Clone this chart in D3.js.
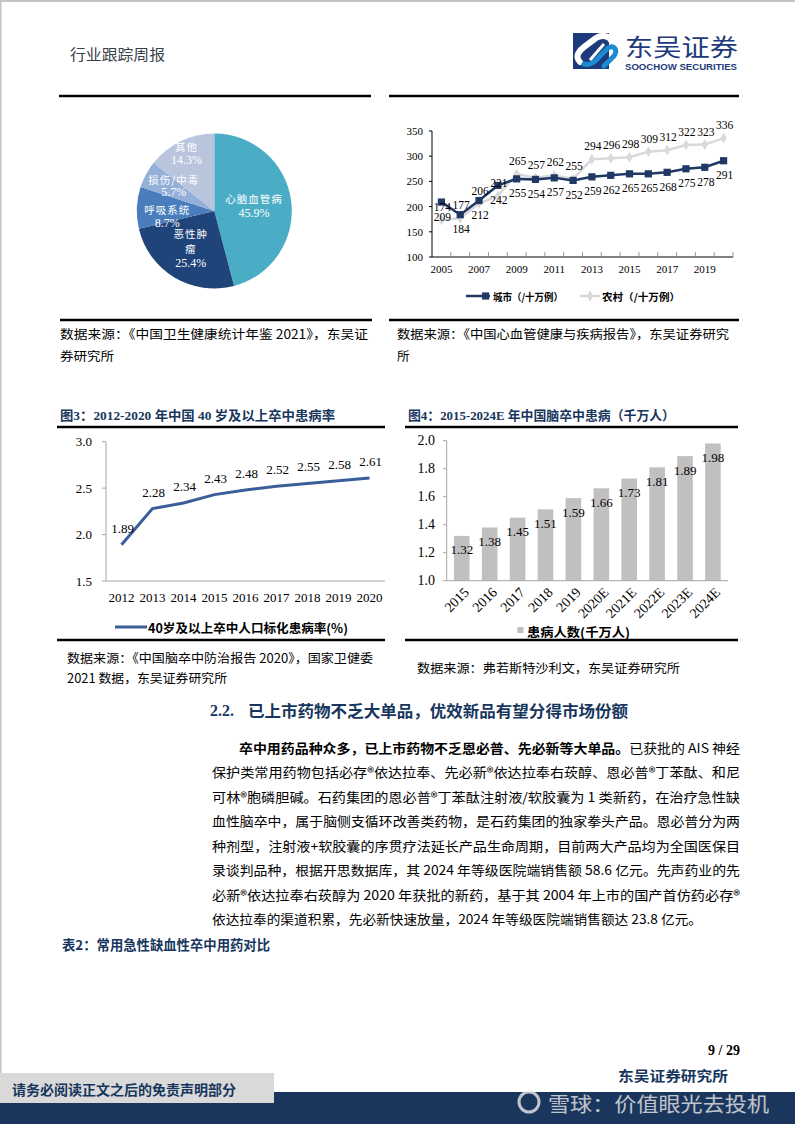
<!DOCTYPE html>
<html><head><meta charset="utf-8">
<script src="https://cdn.jsdelivr.net/npm/d3@7"></script>
<style>body{margin:0;background:#fff}svg{display:block}</style>
</head><body><svg id="page" width="795" height="1124"></svg>
<script>
// ---------- DATA ----------
const pieCategories = ["心脑血管病","恶性肿瘤","呼吸系统","损伤/中毒","其他"];
const pieLabelLines = [["心脑血管病"],["恶性肿","瘤"],["呼吸系统"],["损伤/中毒"],["其他"]];
const pieValues = [45.9,25.4,8.7,5.7,14.3];

const trendYears = ["2005","2006","2007","2008","2009","2010","2011","2012","2013","2014","2015","2016","2017","2018","2019","2020"];
const cityRates = [209,184,212,242,255,254,257,252,259,262,265,265,268,275,278,291];
const ruralRates = [174,177,206,221,265,257,262,255,294,296,298,309,312,322,323,336];
const trendYTicks = [100,150,200,250,300,350];
const trendXTickLabels = ["2005","2007","2009","2011","2013","2015","2017","2019"];
const trendSeriesNames = ["城市（/十万例）","农村（/十万例）"];

const strokeYears = ["2012","2013","2014","2015","2016","2017","2018","2019","2020"];
const strokePrevalence = [1.89,2.28,2.34,2.43,2.48,2.52,2.55,2.58,2.61];
const strokeYTicks = [1.5,2.0,2.5,3.0];
const strokeSeriesName = "40岁及以上卒中人口标化患病率(%)";

const patientYears = ["2015","2016","2017","2018","2019","2020E","2021E","2022E","2023E","2024E"];
const patientCounts = [1.32,1.38,1.45,1.51,1.59,1.66,1.73,1.81,1.89,1.98];
const patientYTicks = [1.0,1.2,1.4,1.6,1.8,2.0];
const patientSeriesName = "患病人数(千万人)";

// ---------- HELPERS ----------
const SERIF = "'Liberation Serif','Times New Roman','Noto Sans CJK SC',serif";
const CJK = "'Noto Sans CJK SC','Liberation Serif',sans-serif";
const NAVY = "#1f3864";
const svg = d3.select("#page");
svg.append("rect").attr("width",795).attr("height",1124).attr("fill","#fff");
svg.append("rect").attr("x",0).attr("y",0).attr("width",795).attr("height",2).attr("fill","#c4c4c4");
svg.append("rect").attr("x",0).attr("y",0).attr("width",1.5).attr("height",1124).attr("fill","#c4c4c4");

function txt(g,x,y,s,o){
  o=o||{};
  const t=g.append("text").attr("x",x).attr("y",y).text(s)
    .attr("font-family",o.ff||CJK).attr("font-size",o.fs||13)
    .attr("font-weight",o.fw||"normal").attr("fill",o.fill||"#000")
    .attr("text-anchor",o.anchor||"start").attr("dominant-baseline","central");
  if(o.len){t.attr("textLength",o.len).attr("lengthAdjust","spacingAndGlyphs");}
  if(o.ls){t.attr("letter-spacing",o.ls);}
  if(o.op){t.attr("opacity",o.op);}
  return t;
}
function hline(x1,x2,y,w){svg.append("line").attr("x1",x1).attr("x2",x2).attr("y1",y).attr("y2",y).attr("stroke","#000").attr("stroke-width",w||2);}

// ---------- HEADER ----------
txt(svg,70,53,"行业跟踪周报",{fs:15,fill:"#3b3f48",len:95});
const logo = svg.append("g");
logo.append("rect").attr("x",573).attr("y",33).attr("width",36).attr("height",36).attr("fill","#1d3a7a");
logo.append("path").attr("d","M580 62 C574 56,580 50,584 47 L596 38 C602 34,610 36,612 42")
  .attr("fill","none").attr("stroke","#fff").attr("stroke-width",6).attr("stroke-linecap","round");
logo.append("path").attr("d","M584 64 C592 66,596 60,600 56 L608 48 C614 44,618 50,614 56 L604 66")
  .attr("fill","none").attr("stroke","#1b8ad3").attr("stroke-width",5).attr("stroke-linecap","round");
logo.append("path").attr("d","M590 60 L604 44").attr("stroke","#fff").attr("stroke-width",3);
txt(svg,625,45,"东吴证券",{fs:24,fill:"#1d3a7a",len:113});
txt(svg,625,67,"SOOCHOW SECURITIES",{fs:9,fw:"bold",ff:"'Liberation Sans',Arial,sans-serif",fill:"#1d3a7a",len:112});
hline(59,371,96,2.5); hline(389,739,96,2.5);

// ---------- CHART 1: PIE ----------
{
  const cx=214.3, cy=211, R=77.5;
  const colors=["#4bacc6","#1f4479","#4a7dbb","#94b0d8","#b9c5dd"];
  const pie=d3.pie().sort(null).value(d=>d)(pieValues);
  const arc=d3.arc().innerRadius(0).outerRadius(R);
  const g=svg.append("g").attr("transform",`translate(${cx},${cy})`);
  g.selectAll("path").data(pie).join("path").attr("d",arc).attr("fill",(d,i)=>colors[i]);
  const labelR=[40,46,47,46,64];
  const labelShift=[0,-2,7,-3,0];
  const lh=[14.5,14.5,13.5,12.5,14];
  pie.forEach((d,i)=>{
    const a=(d.startAngle+d.endAngle)/2;
    const lx=Math.sin(a)*labelR[i], ly=-Math.cos(a)*labelR[i]+labelShift[i];
    const lines=pieLabelLines[i].concat([d3.format(".1f")(d.value)+"%"]);
    const h=(lines.length-1)*lh[i];
    lines.forEach((s,k)=>{
      const isPct=k===lines.length-1;
      txt(g,lx,ly-h/2+k*lh[i],s,{fs:isPct?12:10.5,ff:isPct?SERIF:CJK,fill:"#fff",anchor:"middle",ls:isPct?0:1});
    });
  });
}
hline(60,372,320,2.5); hline(389,739,320,2.5);
txt(svg,60,333,"数据来源：《中国卫生健康统计年鉴 2021》，东吴证",{fs:12.5,len:308});
txt(svg,60,355,"券研究所",{fs:12.5,len:54});
txt(svg,397,333,"数据来源：《中国心血管健康与疾病报告》，东吴证券研究",{fs:12.5,len:332});
txt(svg,397,355,"所",{fs:12.5});

// ---------- CHART 2: TREND LINES ----------
{
  const x=d3.scaleBand().domain(trendYears).range([432,733]);
  const y=d3.scaleLinear().domain([100,350]).range([257,131]);
  const g=svg.append("g");
  g.append("line").attr("x1",432).attr("x2",432).attr("y1",131).attr("y2",257).attr("stroke","#000").attr("stroke-width",1);
  g.append("line").attr("x1",432).attr("x2",733).attr("y1",257).attr("y2",257).attr("stroke","#000").attr("stroke-width",1);
  trendYTicks.forEach(v=>{
    g.append("line").attr("x1",429).attr("x2",432).attr("y1",y(v)).attr("y2",y(v)).attr("stroke","#000");
    txt(g,423,y(v),String(v),{ff:SERIF,fs:11,anchor:"end"});
  });
  trendYears.forEach((yr,i)=>{
    const bx=x(yr)+x.bandwidth();
    g.append("line").attr("x1",bx).attr("x2",bx).attr("y1",257).attr("y2",252).attr("stroke","#999");
  });
  trendXTickLabels.forEach(yr=>txt(g,x(yr)+x.bandwidth()/2,269,yr,{ff:SERIF,fs:11,anchor:"middle"}));
  const cxp=(d,i)=>x(trendYears[i])+x.bandwidth()/2;
  const line=d3.line().x(cxp).y(d=>y(d));
  g.append("path").attr("d",line(ruralRates)).attr("fill","none").attr("stroke","#d9d9d9").attr("stroke-width",2.5);
  g.append("path").attr("d",line(cityRates)).attr("fill","none").attr("stroke",NAVY).attr("stroke-width",2.5);
  const dia=d3.symbol().type(d3.symbolDiamond).size(34)();
  ruralRates.forEach((v,i)=>g.append("path").attr("d",dia).attr("transform",`translate(${cxp(v,i)},${y(v)})`).attr("fill","#d9d9d9"));
  cityRates.forEach((v,i)=>g.append("rect").attr("x",cxp(v,i)-3.6).attr("y",y(v)-3.6).attr("width",7.2).attr("height",7.2).attr("fill",NAVY));
  ruralRates.forEach((v,i)=>txt(g,cxp(v,i)+1,y(v)-13,String(v),{ff:SERIF,fs:11.5,anchor:"middle"}));
  cityRates.forEach((v,i)=>txt(g,cxp(v,i)+1,y(v)+14.5,String(v),{ff:SERIF,fs:11.5,anchor:"middle"}));
  g.append("line").attr("x1",466).attr("x2",490).attr("y1",296).attr("y2",296).attr("stroke",NAVY).attr("stroke-width",2.5);
  g.append("rect").attr("x",482).attr("y",292.4).attr("width",7.2).attr("height",7.2).attr("fill",NAVY);
  txt(g,493,296,trendSeriesNames[0],{fs:10,fw:"bold",len:70});
  g.append("line").attr("x1",580).attr("x2",600).attr("y1",296).attr("y2",296).attr("stroke","#d9d9d9").attr("stroke-width",2.5);
  g.append("path").attr("d",dia).attr("transform","translate(590,296)").attr("fill","#d9d9d9");
  txt(g,602,296,trendSeriesNames[1],{fs:10,fw:"bold",len:78});
}

// ---------- CHART 3: STROKE PREVALENCE ----------
txt(svg,60,415,"图3：2012-2020 年中国 40 岁及以上卒中患病率",{ff:SERIF,fs:13,fw:"bold",fill:"#17365d",len:275});
hline(57,385,427,2.5);
{
  const x=d3.scaleBand().domain(strokeYears).range([106,385]);
  const y=d3.scaleLinear().domain([1.5,3.0]).range([581,441.7]);
  const g=svg.append("g");
  g.append("line").attr("x1",106).attr("x2",106).attr("y1",441.7).attr("y2",581).attr("stroke","#a6a6a6");
  g.append("line").attr("x1",106).attr("x2",385).attr("y1",581).attr("y2",581).attr("stroke","#a6a6a6");
  strokeYTicks.forEach(v=>{
    g.append("line").attr("x1",102).attr("x2",106).attr("y1",y(v)).attr("y2",y(v)).attr("stroke","#a6a6a6");
    txt(g,92,y(v),d3.format(".1f")(v),{ff:SERIF,fs:13,anchor:"end"});
  });
  strokeYears.forEach(yr=>txt(g,x(yr)+x.bandwidth()/2,597,yr,{ff:SERIF,fs:13,anchor:"middle"}));
  const cxp=(d,i)=>x(strokeYears[i])+x.bandwidth()/2;
  g.append("path").attr("d",d3.line().x(cxp).y(d=>y(d))(strokePrevalence)).attr("fill","none").attr("stroke","#3a5e9a").attr("stroke-width",3);
  strokePrevalence.forEach((v,i)=>txt(g,cxp(v,i)+1,y(v)-16.5,d3.format(".2f")(v),{ff:SERIF,fs:13,anchor:"middle"}));
  g.append("line").attr("x1",115).attr("x2",147).attr("y1",627).attr("y2",627).attr("stroke","#3a5e9a").attr("stroke-width",3);
  txt(g,148,627,strokeSeriesName,{fs:12.5,fw:"bold",len:200});
}
hline(57,385,640,2.5);
txt(svg,67,657,"数据来源：《中国脑卒中防治报告 2020》，国家卫健委",{fs:12.5,len:306});
txt(svg,67,677,"2021 数据，东吴证券研究所",{fs:12.5,len:160});

// ---------- CHART 4: PATIENT BARS ----------
txt(svg,408,415,"图4：2015-2024E 年中国脑卒中患病（千万人）",{ff:SERIF,fs:13,fw:"bold",fill:"#17365d",len:267});
hline(405,738,427,2.5);
{
  const x=d3.scaleBand().domain(patientYears).range([446.7,728]).paddingInner(0.44).paddingOuter(0.26);
  const y=d3.scaleLinear().domain([1.0,2.0]).range([580.7,440.7]);
  const g=svg.append("g");
  g.selectAll("rect.bar").data(patientCounts).join("rect").attr("class","bar")
    .attr("x",(d,i)=>x(patientYears[i])).attr("width",x.bandwidth())
    .attr("y",d=>y(d)).attr("height",d=>y(1.0)-y(d)).attr("fill","#c0c0c0");
  g.append("line").attr("x1",446.7).attr("x2",446.7).attr("y1",440.7).attr("y2",580.7).attr("stroke","#a6a6a6");
  g.append("line").attr("x1",446.7).attr("x2",728).attr("y1",580.7).attr("y2",580.7).attr("stroke","#a6a6a6");
  patientYTicks.forEach(v=>{
    g.append("line").attr("x1",443).attr("x2",446.7).attr("y1",y(v)).attr("y2",y(v)).attr("stroke","#a6a6a6");
    txt(g,435,y(v),d3.format(".1f")(v),{ff:SERIF,fs:14,anchor:"end"});
  });
  patientCounts.forEach((v,i)=>txt(g,x(patientYears[i])+x.bandwidth()/2,y(v)+14,d3.format(".2f")(v),{ff:SERIF,fs:13,anchor:"middle"}));
  patientYears.forEach(yr=>{
    const px=x(yr)+x.bandwidth()/2+5;
    g.append("text").attr("transform",`translate(${px},590) rotate(-45)`).attr("text-anchor","end")
      .attr("dominant-baseline","central").attr("font-family",SERIF).attr("font-size",14).text(yr);
  });
  g.append("rect").attr("x",517.5).attr("y",627).attr("width",6).attr("height",6).attr("fill","#c0c0c0");
  txt(g,527,631,patientSeriesName,{fs:12.5,fw:"bold",len:103});
}
hline(405,738,640,2.5);
txt(svg,417,667,"数据来源：弗若斯特沙利文，东吴证券研究所",{fs:12.5,len:263});

// ---------- TEXT BODY ----------
{
  const h=svg.append("text").attr("y",710).attr("dominant-baseline","central").attr("fill","#17365d").attr("font-weight","bold");
  h.append("tspan").attr("x",210).attr("font-family",SERIF).attr("font-size",16).text("2.2.");
  txt(svg,248,710,"已上市药物不乏大单品，优效新品有望分得市场份额",{fs:16,fw:"bold",fill:"#17365d",len:380});
  const t1=svg.append("text").attr("x",239).attr("y",747).attr("dominant-baseline","central")
    .attr("font-family",CJK).attr("font-size",13).attr("textLength",501).attr("lengthAdjust","spacingAndGlyphs");
  t1.append("tspan").attr("font-weight","bold").text("卒中用药品种众多，已上市药物不乏恩必普、先必新等大单品。");
  t1.append("tspan").text("已获批的 AIS 神经");
  const lines=[
    "保护类常用药物包括必存®依达拉奉、先必新®依达拉奉右莰醇、恩必普®丁苯酞、和尼",
    "可林®胞磷胆碱。石药集团的恩必普®丁苯酞注射液/软胶囊为 1 类新药，在治疗急性缺",
    "血性脑卒中，属于脑侧支循环改善类药物，是石药集团的独家拳头产品。恩必普分为两",
    "种剂型，注射液+软胶囊的序贯疗法延长产品生命周期，目前两大产品均为全国医保目",
    "录谈判品种，根据开思数据库，其 2024 年等级医院端销售额 58.6 亿元。先声药业的先",
    "必新®依达拉奉右莰醇为 2020 年获批的新药，基于其 2004 年上市的国产首仿药必存®",
    "依达拉奉的渠道积累，先必新快速放量，2024 年等级医院端销售额达 23.8 亿元。"
  ];
  lines.forEach((s,i)=>txt(svg,212,771.5+i*24.5,s,{fs:13,len:i===6?490:528}));
  txt(svg,62,944,"表2：常用急性缺血性卒中用药对比",{fs:13.5,fw:"bold",fill:"#17365d",len:208});
}

// ---------- FOOTER ----------
txt(svg,740,1050,"9 / 29",{ff:SERIF,fs:14,fw:"bold",anchor:"end"});
txt(svg,618,1075,"东吴证券研究所",{fs:14,fw:"bold",fill:"#17365d",len:110});
svg.append("rect").attr("x",0).attr("y",1092).attr("width",795).attr("height",32).attr("fill","#1b365d");
svg.append("rect").attr("x",0).attr("y",1073).attr("width",274).attr("height",30).attr("fill","#d9d9d9");
txt(svg,12,1089,"请务必阅读正文之后的免责声明部分",{fs:13.5,fw:"bold",fill:"#17365d",len:224});
svg.append("circle").attr("cx",529).attr("cy",1102).attr("r",10).attr("fill","none").attr("stroke","#e8e8e8").attr("stroke-width",3).attr("opacity",0.8);
txt(svg,548,1103,"雪球：价值眼光去投机",{fs:20,fill:"#e8e8e8",len:221,op:0.8});
</script></body></html>
